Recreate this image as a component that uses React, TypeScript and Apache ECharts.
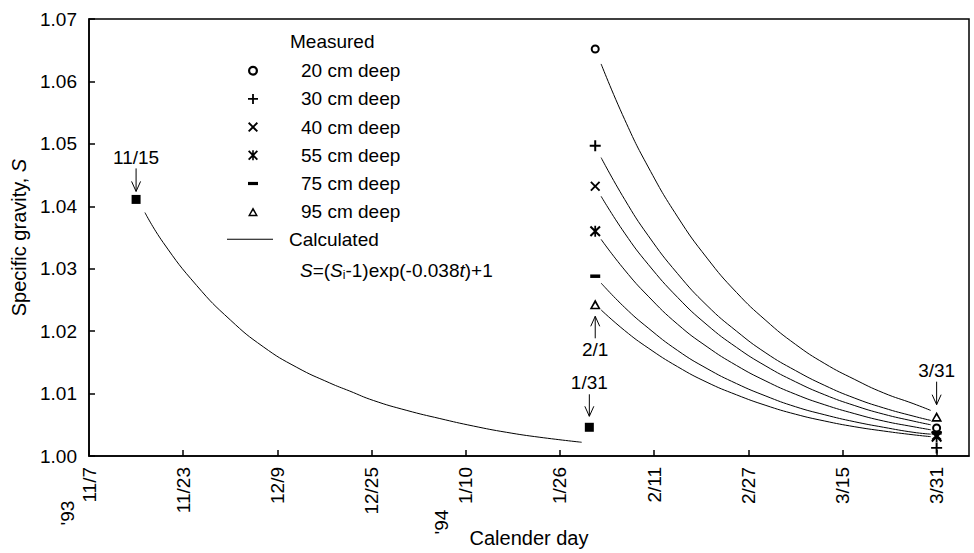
import React, { useEffect, useRef } from 'react';
import * as echarts from 'echarts';

// ---- data (days counted from 11/7/'93) ----
const tickDays = [0, 16, 32, 48, 64, 80, 96, 112, 128, 144];
const tickLabels = ['11/7', '11/23', '12/9', '12/25', '1/10', '1/26', '2/11', '2/27', '3/15', '3/31'];
const yTicks = [1.0, 1.01, 1.02, 1.03, 1.04, 1.05, 1.06, 1.07];

const depthNames = ['20 cm deep', '30 cm deep', '40 cm deep', '55 cm deep', '75 cm deep', '95 cm deep'];
const measuredDays = [86, 144];
const m20 = [1.0652, 1.0045];
const m30 = [1.0497, 1.0013];
const m40 = [1.0432, 1.0033];
const m55 = [1.036, 1.0031];
const m75 = [1.0288, 1.0037];
const m95 = [1.0243, 1.0063];

const initialDays = [8, 85];
const initialValues = [1.0411, 1.0046];

const calcDays1 = [9.5, 12.6, 18.3, 24.0, 29.6, 35.3, 40.9, 44.3, 48.3, 54.0, 59.6, 65.3, 70.9, 76.6, 83.7];
const calcVals1 = [1.039, 1.0342, 1.0273, 1.0218, 1.0175, 1.0142, 1.0117, 1.0104, 1.0089, 1.0073, 1.006, 1.0048, 1.0038, 1.003, 1.0022];

const calcDays2 = [87, 91, 95, 100, 105, 110, 115, 120, 125, 130, 135, 140, 143];
const c20 = [1.0628, 1.0539, 1.0463, 1.0383, 1.0317, 1.0262, 1.0217, 1.0179, 1.0148, 1.0123, 1.0101, 1.0084, 1.0073];
const c30 = [1.0478, 1.0411, 1.0353, 1.0292, 1.0241, 1.02, 1.0165, 1.0137, 1.0113, 1.0093, 1.0077, 1.0064, 1.0057];
const c40 = [1.0416, 1.0357, 1.0307, 1.0254, 1.021, 1.0174, 1.0144, 1.0119, 1.0098, 1.0081, 1.0067, 1.0056, 1.005];
const c55 = [1.0347, 1.0298, 1.0256, 1.0211, 1.0175, 1.0145, 1.012, 1.0099, 1.0082, 1.0068, 1.0056, 1.0047, 1.0042];
const c75 = [1.0277, 1.0238, 1.0205, 1.0169, 1.014, 1.0116, 1.0096, 1.0079, 1.0066, 1.0055, 1.0046, 1.0038, 1.0035];
const c95 = [1.0234, 1.0201, 1.0173, 1.0143, 1.0118, 1.0098, 1.0081, 1.0067, 1.0056, 1.0047, 1.004, 1.0034, 1.0031];

const annotations = ['11/15', '1/31', '2/1', '3/31'];
const yearLabels = ["'93", "'94"];

// ---- symbols ----
const SYM_RING = 'path://M5,0 A5,5 0 1,1 5,10 A5,5 0 1,1 5,0 Z M5,2.2 A2.8,2.8 0 1,0 5,7.8 A2.8,2.8 0 1,0 5,2.2 Z';
const SYM_PLUS = 'path://M4.1,0 L5.9,0 L5.9,4.1 L10,4.1 L10,5.9 L5.9,5.9 L5.9,10 L4.1,10 L4.1,5.9 L0,5.9 L0,4.1 L4.1,4.1 Z';
const SYM_X = 'path://M0,1.3 L1.3,0 L5,3.7 L8.7,0 L10,1.3 L6.3,5 L10,8.7 L8.7,10 L5,6.3 L1.3,10 L0,8.7 L3.7,5 Z';
const SYM_AST = 'path://M0,1.3 L1.3,0 L5,3.7 L8.7,0 L10,1.3 L6.3,5 L10,8.7 L8.7,10 L5,6.3 L1.3,10 L0,8.7 L3.7,5 Z M4.2,0 L5.8,0 L5.8,10 L4.2,10 Z';
const SYM_MINUS = 'path://M0,0 L10,0 L10,3.2 L0,3.2 Z';
const SYM_TRI = 'path://M5,0 L10,9 L0,9 Z M5,3.3 L2.4,7.6 L7.6,7.6 Z';

const FONT = '"Liberation Sans", Arial, Helvetica, sans-serif';

export default function App() {
  const ref = useRef<HTMLDivElement>(null);

  useEffect(() => {
    document.body.style.margin = '0';
    if (!ref.current) return;
    const chart = echarts.init(ref.current, undefined, { renderer: 'svg' });

    const measured = [m20, m30, m40, m55, m75, m95];
    const symbols = [SYM_RING, SYM_PLUS, SYM_X, SYM_AST, SYM_MINUS, SYM_TRI];
    const sizes: any[] = [9, 11, 10, 11, [10, 3.5], [11, 10]];
    const curves2 = [c20, c30, c40, c55, c75, c95];

    const lineBase = {
      name: 'Calculated',
      type: 'line',
      symbol: 'none',
      smooth: 0.5,
      lineStyle: { color: '#000', width: 1 },
      itemStyle: { color: '#000' },
      z: 2,
    };
    const lineSeries: any[] = [
      { ...lineBase, data: calcDays1.map((d, i) => [d, calcVals1[i]]) },
      ...curves2.map((c) => ({ ...lineBase, data: calcDays2.map((d, i) => [d, c[i]]) })),
    ];

    const scatterSeries: any[] = measured.map((vals, k) => ({
      name: depthNames[k],
      type: 'scatter',
      data: measuredDays.map((d, i) => [d, vals[i]]),
      symbol: symbols[k],
      symbolSize: sizes[k],
      symbolKeepAspect: false,
      itemStyle: { color: '#000', opacity: 1 },
      clip: false,
      z: 5,
    }));

    const initSeries = {
      name: 'initial',
      type: 'scatter',
      data: initialDays.map((d, i) => [d, initialValues[i]]),
      symbol: 'rect',
      symbolSize: 9,
      itemStyle: { color: '#000', opacity: 1 },
      z: 5,
    };

    const option: any = {
      animation: false,
      backgroundColor: '#fff',
      textStyle: { fontFamily: FONT, color: '#000' },
      grid: {
        left: 89,
        right: 5,
        top: 19,
        bottom: 96,
        show: true,
        borderColor: '#000',
        borderWidth: 1.5,
        containLabel: false,
      },
      legend: [
        {
          data: depthNames.map((n, k) => ({ name: n, icon: symbols[k] })),
          orient: 'vertical',
          left: 248,
          top: 60.7,
          padding: 0,
          itemWidth: 10,
          itemHeight: 10,
          itemGap: 8.2,
          selectedMode: false,
          symbolKeepAspect: true,
          itemStyle: { color: '#000', opacity: 1 },
          textStyle: { fontSize: 19, color: '#000', fontFamily: FONT, padding: [0, 0, 0, 38], lineHeight: 20 },
        },
        {
          data: [{ name: 'Calculated', icon: 'rect' }],
          orient: 'vertical',
          left: 227,
          top: 229.3,
          padding: 0,
          itemWidth: 46,
          itemHeight: 1,
          selectedMode: false,
          itemStyle: { color: '#000' },
          textStyle: { fontSize: 19, color: '#000', fontFamily: FONT, padding: [0, 0, 0, 11], lineHeight: 20 },
        },
      ],
      xAxis: {
        type: 'value',
        min: 0,
        max: 149.5,
        interval: 16,
        name: 'Calender day',
        nameLocation: 'middle',
        nameGap: 72,
        nameTextStyle: { fontSize: 20, color: '#000', fontFamily: FONT },
        axisLine: { show: true, lineStyle: { color: '#000', width: 1.5 } },
        axisTick: { show: true, inside: true, length: 6, lineStyle: { color: '#000', width: 1.5 } },
        axisLabel: {
          rotate: 90,
          margin: 11,
          fontSize: 19,
          color: '#000',
          fontFamily: FONT,
          showMaxLabel: false,
          formatter: (v: number) => {
            const idx = tickDays.findIndex((d) => Math.abs(d - v) < 1e-6);
            return idx >= 0 ? tickLabels[idx] : '';
          },
        },
        splitLine: { show: false },
      },
      yAxis: {
        type: 'value',
        min: yTicks[0],
        max: yTicks[yTicks.length - 1],
        interval: 0.01,
        name: 'Specific gravity, {i|S}',
        nameLocation: 'middle',
        nameGap: 60,
        nameTextStyle: {
          fontSize: 20,
          color: '#000',
          fontFamily: FONT,
          rich: { i: { fontStyle: 'italic', fontSize: 20, fontFamily: FONT, color: '#000' } },
        },
        axisLine: { show: true, lineStyle: { color: '#000', width: 1.5 } },
        axisTick: { show: true, inside: true, length: 6, lineStyle: { color: '#000', width: 1.5 } },
        axisLabel: {
          margin: 12,
          fontSize: 19,
          color: '#000',
          fontFamily: FONT,
          formatter: (v: number) => v.toFixed(2),
        },
        splitLine: { show: false },
      },
      series: [...lineSeries, ...scatterSeries, initSeries],
    };

    chart.setOption(option);

    const px = (x: number, y: number) => chart.convertToPixel({ gridIndex: 0 }, [x, y]) as number[];
    const textEl = (t: string, x: number, y: number, extra: any = {}) => ({
      type: 'text',
      x,
      y,
      style: { text: t, fill: '#000', fontSize: 19, fontFamily: FONT, align: 'center', verticalAlign: 'middle', ...extra },
      z: 10,
    });
    const arrowDown = (x: number, y1: number, y2: number) => [
      { type: 'line', shape: { x1: x, y1, x2: x, y2 }, style: { stroke: '#000', lineWidth: 1 }, z: 10 },
      {
        type: 'polyline',
        shape: { points: [[x - 4.5, y2 - 10], [x, y2], [x + 4.5, y2 - 10]] },
        style: { stroke: '#000', lineWidth: 1, fill: 'none' },
        z: 10,
      },
    ];
    const arrowUp = (x: number, y1: number, y2: number) => [
      { type: 'line', shape: { x1: x, y1, x2: x, y2 }, style: { stroke: '#000', lineWidth: 1 }, z: 10 },
      {
        type: 'polyline',
        shape: { points: [[x - 4.5, y2 + 10], [x, y2], [x + 4.5, y2 + 10]] },
        style: { stroke: '#000', lineWidth: 1, fill: 'none' },
        z: 10,
      },
    ];

    const p1 = px(initialDays[0], initialValues[0]);
    const p2 = px(initialDays[1], initialValues[1]);
    const p3 = px(measuredDays[0], m95[0]);
    const p4 = px(measuredDays[1], m95[1]);
    const t0 = px(tickDays[0], yTicks[0]);
    const t4 = px(tickDays[4], yTicks[0]);

    const graphic: any[] = [
      textEl(annotations[0], p1[0], p1[1] - 42),
      ...arrowDown(p1[0], p1[1] - 31, p1[1] - 8),
      textEl(annotations[1], p2[0], p2[1] - 45),
      ...arrowDown(p2[0], p2[1] - 33, p2[1] - 11),
      textEl(annotations[2], p3[0], p3[1] + 45),
      ...arrowUp(p3[0], p3[1] + 34, p3[1] + 12),
      textEl(annotations[3], p4[0], p4[1] - 46),
      ...arrowDown(p4[0], p4[1] - 35, p4[1] - 12),
      { ...textEl(yearLabels[0], t0[0] - 22, t0[1] + 57), rotation: Math.PI / 2 },
      { ...textEl(yearLabels[1], t4[0] - 24, t4[1] + 66), rotation: Math.PI / 2 },
      textEl('Measured', 290, 41, { align: 'left' }),
      {
        type: 'text',
        x: 300,
        y: 270,
        style: {
          text: '{i|S}=({i|S}{s|i}-1)exp(-0.038{i|t})+1',
          fill: '#000',
          fontSize: 19,
          fontFamily: FONT,
          align: 'left',
          verticalAlign: 'middle',
          rich: {
            i: { fontStyle: 'italic', fontSize: 19, fontFamily: FONT, fill: '#000', lineHeight: 22 },
            s: { fontSize: 12, fontFamily: FONT, fill: '#000', verticalAlign: 'bottom', lineHeight: 22 },
          },
        },
        z: 10,
      },
    ];

    chart.setOption({ graphic });

    return () => {
      chart.dispose();
    };
  }, []);

  return <div ref={ref} style={{ width: 974, height: 553 }} />;
}
